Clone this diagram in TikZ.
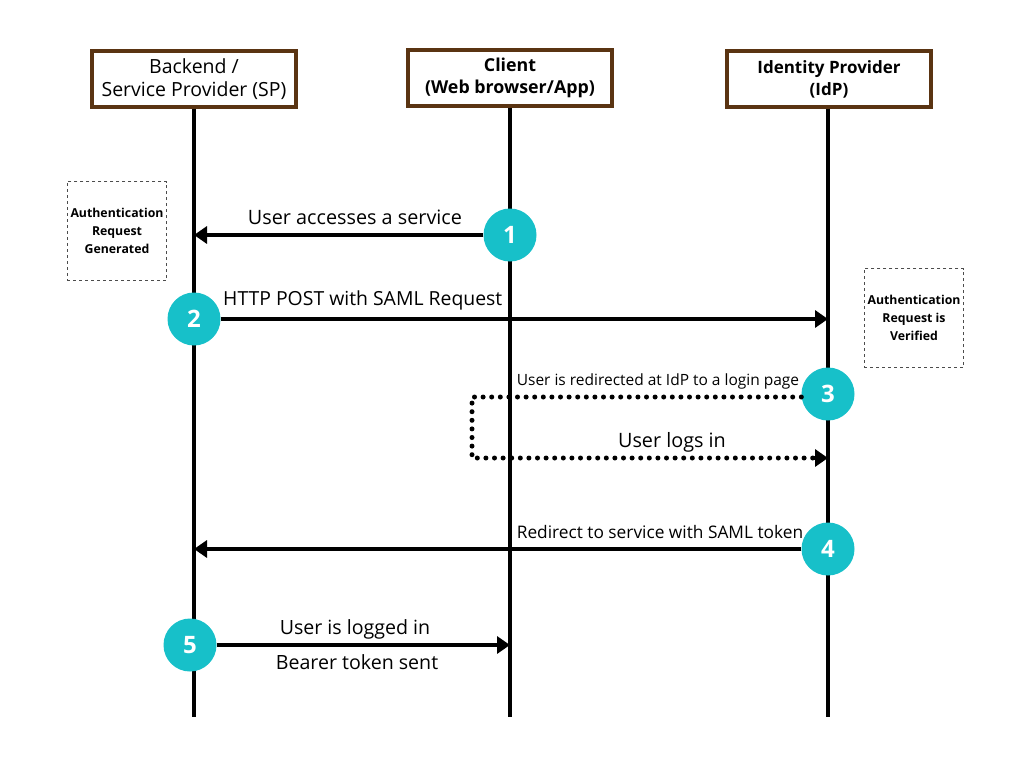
\documentclass[tikz,border=0pt]{standalone}
\usepackage{fontspec}
\setmainfont{Open Sans}
\usetikzlibrary{arrows.meta,calc}
\definecolor{brownb}{HTML}{5A3412}
\definecolor{tealc}{HTML}{17C0C9}
\begin{document}
\begin{tikzpicture}[x=1pt,y=-1pt,
  header/.style={draw=brownb,line width=4pt,minimum width=204pt,minimum height=55pt,align=center,inner sep=2pt},
  life/.style={line width=4pt},
  num/.style={circle,fill=tealc,minimum size=53pt,inner sep=0pt,text=white,font=\fontsize{24}{24}\selectfont\bfseries},
  msg/.style={line width=4pt,-{Triangle[length=13pt,width=17pt]}},
  dots/.style={line width=5pt,line cap=round,dash pattern=on 0pt off 8.6pt},
  note/.style={draw=black!70,dashed,line width=0.8pt,minimum width=99pt,minimum height=99pt,align=center,font=\fontsize{12.3}{18}\selectfont\bfseries},
  lbl/.style={inner sep=0pt,anchor=base}
]
\useasboundingbox (0,0) rectangle (1024,768);
\fill[white] (0,0) rectangle (1024,768);
% headers
\node[header,font=\fontsize{19.5}{23}\selectfont] (sp) at (194,79) {Backend /\\Service Provider (SP)};
\node[header,font=\fontsize{17.8}{22}\selectfont\bfseries] (cl) at (510,78) {Client\\(Web browser/App)};
\node[header,font=\fontsize{17}{22}\selectfont\bfseries] (idp) at (829,79) {Identity Provider\\(IdP)};
% lifelines
\coordinate (spb) at (194,717);
\coordinate (clb) at (510,717);
\coordinate (idpb) at (828,717);
\draw[life] (sp.south -| spb) -- (spb);
\draw[life] (cl.south -| clb) -- (clb);
\draw[life] (idp.south -| idpb) -- (idpb);
% notes
\node[note] (n1) at (117,231) {Authentication\\Request\\Generated};
\node[note] (n2) at (914,318) {Authentication\\Request is\\Verified};
% step circles
\node[num] (s1) at (510,235) {1};
\node[num] (s2) at (194,319) {2};
\node[num] (s3) at (828,394) {3};
\node[num] (s4) at (828,549) {4};
\node[num] (s5) at (190,645) {5};
% messages
\draw[msg] (s1.west) -- (s1.west -| spb);
\node[lbl,font=\fontsize{19.8}{22}\selectfont] (l1) at (355,224) {User accesses a service};
\draw[msg] (s2.east) -- (s2.east -| idpb);
\node[lbl,font=\fontsize{19.4}{22}\selectfont,anchor=base west] (l2) at (223,305) {HTTP POST with SAML Request};
\coordinate (d1) at (472,397);
\coordinate (d2) at (472,458);
\draw[dots] (s3.west |- d1) -- (d1) -- (d2) -- ($(d2 -| idpb)+(-14,0)$);
\draw[-{Triangle[length=13pt,width=17pt]},line width=4pt] ($(d2 -| idpb)+(-14,0)$) -- (d2 -| idpb);
\node[lbl,font=\fontsize{15.5}{18}\selectfont] (l3) at (658,385) {User is redirected at IdP to a login page};
\node[lbl,font=\fontsize{19.8}{22}\selectfont] (l3b) at (672,447) {User logs in};
\draw[msg] (s4.west) -- (s4.west -| spb);
\node[lbl,font=\fontsize{17.3}{20}\selectfont] (l4) at (660,538) {Redirect to service with SAML token};
\draw[msg] (s5.east) -- (s5.east -| clb);
\node[lbl,font=\fontsize{19.6}{22}\selectfont] (l5a) at (355,634) {User is logged in};
\node[lbl,font=\fontsize{19.6}{22}\selectfont] (l5b) at (357,669) {Bearer token sent};
\end{tikzpicture}
\end{document}
